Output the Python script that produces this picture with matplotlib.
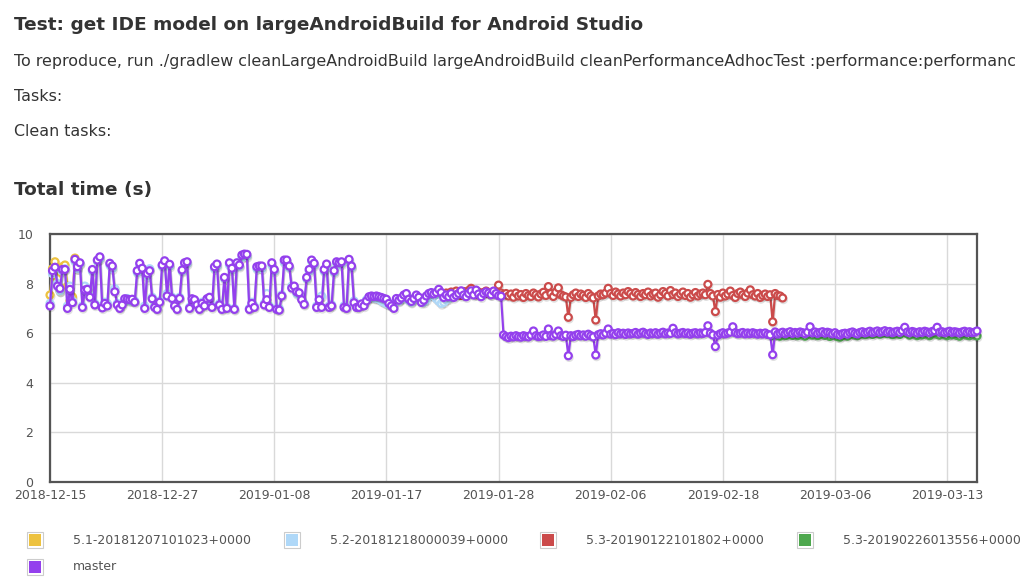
import numpy as np
import matplotlib
matplotlib.use("Agg")
import matplotlib.pyplot as plt
import matplotlib.patheffects as pe
from matplotlib.patches import Rectangle

# ---- data ----
tick_pos = [0, 45, 90, 135, 180, 225, 270, 315, 360]
tick_labels = ["2018-12-15", "2018-12-27", "2019-01-08", "2019-01-17", "2019-01-28",
               "2019-02-06", "2019-02-18", "2019-03-06", "2019-03-13"]

series_names = ["5.1-20181207101023+0000", "5.2-20181218000039+0000",
                "5.3-20190122101802+0000", "5.3-20190226013556+0000", "master"]
series_colors = ["#edc240", "#afd8f8", "#cb4b4b", "#4da74d", "#9440ed"]

v51_start = 0
v51 = [7.54, 8.6, 8.88, 8.2, 7.7, 8.68, 8.75, 7.9, 7.3, 7.47, 9.03, 8.6]

v52_start = 0
v52 = [7.2, 8.4, 8.6, 8.0, 7.7, 8.5, 8.6, 7.1, 7.9, 7.3,
       8.9, 8.6, 8.8, 7.1, 7.9, 7.8, 7.5, 8.5, 7.2, 8.9,
       9.0, 7.1, 7.25, 7.2, 8.75, 8.6, 7.8, 7.2, 7.05, 7.2,
       7.35, 7.4, 7.3, 7.3, 7.3, 8.45, 8.75, 8.55, 7.1, 8.3,
       8.6, 7.45, 7.1, 7.0, 7.3, 8.7, 8.85, 7.6, 8.7, 7.45,
       7.15, 7.0, 7.45, 8.5, 8.8, 8.8, 7.05, 7.3, 7.3, 7.2,
       7.0, 7.25, 7.15, 7.35, 7.4, 7.1, 8.6, 8.7, 7.2, 7.0,
       8.2, 7.05, 8.75, 8.55, 7.0, 8.75, 8.7, 9.05, 9.1, 9.1,
       7.0, 7.25, 7.1, 8.6, 8.65, 8.6, 7.2, 7.6, 7.1, 8.75,
       8.5, 7.0, 7.0, 7.55, 8.85, 8.9, 8.65, 7.9, 7.85, 7.6,
       7.55, 7.4, 7.2, 8.2, 8.5, 8.9, 8.75, 7.1, 7.4, 7.5,
       8.5, 8.7, 7.1, 7.15, 8.45, 8.8, 8.75, 8.8, 7.1, 7.05,
       8.9, 8.65, 7.3, 7.1, 7.1, 7.15, 7.2, 7.35, 7.42, 7.45,
       7.42, 7.4, 7.38, 7.3, 7.25, 7.2, 7.15, 7.1, 7.2, 7.35,
       7.3, 7.38, 7.45, 7.5, 7.32, 7.25, 7.35, 7.45, 7.4, 7.3,
       7.25, 7.35, 7.5, 7.55, 7.5, 7.4, 7.3, 7.2, 7.25, 7.35, 7.4]

v53a_start = 158
v53a = [7.55, 7.62, 7.5, 7.66, 7.58, 7.7, 7.6, 7.52, 7.68, 7.6,
        7.72, 7.81, 7.6, 7.55, 7.66, 7.58, 7.64, 7.7, 7.6, 7.56,
        7.65, 7.6, 7.94, 7.62, 7.55, 7.6, 7.5, 7.58, 7.45, 7.62,
        7.5, 7.56, 7.44, 7.6, 7.52, 7.48, 7.62, 7.55, 7.46, 7.58,
        7.65, 7.52, 7.88, 7.6, 7.48, 7.66, 7.83, 7.55, 7.5, 7.46,
        6.64, 7.44, 7.55, 7.62, 7.48, 7.58, 7.52, 7.44, 7.6, 7.5,
        7.42, 6.53, 7.5, 7.58, 7.55, 7.62, 7.81, 7.6, 7.52, 7.66,
        7.58, 7.5, 7.62, 7.55, 7.68, 7.6, 7.5, 7.64, 7.56, 7.48,
        7.6, 7.55, 7.66, 7.5, 7.58, 7.62, 7.45, 7.55, 7.68, 7.6,
        7.5, 7.72, 7.56, 7.62, 7.48, 7.58, 7.66, 7.52, 7.6, 7.45,
        7.55, 7.64, 7.5, 7.58, 7.62, 7.55, 7.97, 7.6, 7.5, 6.87,
        7.56, 7.45, 7.62, 7.5, 7.58, 7.7, 7.52, 7.44, 7.6, 7.66,
        7.55, 7.48, 7.62, 7.75, 7.55, 7.5, 7.6, 7.44, 7.52, 7.58,
        7.48, 7.55, 6.46, 7.6, 7.52, 7.5, 7.42]

v53b_start = 290
v53b = [5.9, 5.95, 5.92, 5.88, 5.96, 5.9, 5.93, 5.98, 5.91, 5.95,
        5.9, 5.97, 5.93, 5.88, 5.95, 5.99, 5.92, 5.96, 5.9, 5.94,
        5.98, 5.91, 5.95, 5.87, 5.92, 5.96, 5.86, 5.84, 5.9, 5.93,
        5.88, 5.95, 5.99, 5.92, 5.9, 5.96, 6.0, 5.94, 5.97, 6.02,
        5.95, 5.99, 6.04, 5.96, 6.0, 6.07, 5.98, 6.02, 5.94, 5.97,
        6.01, 5.95, 6.04, 6.1, 5.98, 5.92, 6.0, 5.96, 5.9, 5.97,
        5.93, 6.0, 5.95, 5.9, 5.97, 6.02, 5.96, 5.92, 5.99, 5.94,
        5.9, 5.97, 5.93, 5.98, 5.91, 5.88, 5.95, 5.99, 5.92, 5.9, 5.96, 5.93, 5.89]

master_start = 0
master = [7.1, 8.52, 8.66, 7.9, 7.8, 8.57, 8.57, 7.0, 7.77, 7.23,
          8.98, 8.68, 8.84, 7.04, 7.74, 7.77, 7.45, 8.57, 7.14, 8.95,
          9.08, 7.02, 7.2, 7.1, 8.82, 8.71, 7.67, 7.14, 7.0, 7.14,
          7.39, 7.37, 7.35, 7.37, 7.25, 8.52, 8.82, 8.62, 7.0, 8.41,
          8.52, 7.39, 7.04, 6.96, 7.25, 8.75, 8.92, 7.5, 8.78, 7.4,
          7.1, 6.96, 7.4, 8.55, 8.84, 8.88, 7.0, 7.39, 7.35, 7.14,
          6.96, 7.2, 7.1, 7.39, 7.45, 7.04, 8.68, 8.79, 7.14, 6.96,
          8.25, 7.0, 8.84, 8.62, 6.96, 8.84, 8.75, 9.15, 9.19, 9.18,
          6.96, 7.2, 7.04, 8.68, 8.71, 8.71, 7.14, 7.35, 7.04, 8.84,
          8.57, 6.96, 6.93, 7.5, 8.95, 8.95, 8.71, 7.82, 7.9, 7.67,
          7.63, 7.35, 7.16, 8.25, 8.57, 8.95, 8.82, 7.04, 7.35, 7.04,
          8.57, 8.79, 7.04, 7.1, 8.52, 8.88, 8.84, 8.88, 7.04, 7.0,
          8.98, 8.71, 7.23, 7.04,
          7.04, 7.18, 7.1, 7.3, 7.47, 7.5, 7.48, 7.5, 7.47, 7.44,
          7.4, 7.37, 7.2, 7.1, 7.0, 7.4, 7.33, 7.42, 7.54, 7.6,
          7.37, 7.28, 7.4, 7.54, 7.45, 7.24, 7.33, 7.5, 7.6, 7.64,
          7.58, 7.64, 7.77, 7.64, 7.44, 7.54, 7.47, 7.6, 7.44, 7.52,
          7.6, 7.71, 7.54, 7.47, 7.6, 7.71, 7.54, 7.74, 7.58, 7.47,
          7.6, 7.67, 7.62, 7.55, 7.7, 7.6, 7.51, 7.49,
          5.93, 5.86, 5.82, 5.88, 5.85, 5.9, 5.86, 5.84, 5.9, 5.87,
          5.85, 5.92, 6.09, 5.9, 5.86, 5.88, 5.93, 5.87, 6.17, 5.9,
          5.88, 5.95, 6.09, 5.9, 5.87, 5.92, 5.09, 5.9, 5.86, 5.92,
          5.95, 5.89, 5.93, 5.88, 5.96, 5.9, 5.85, 5.12, 5.94, 5.98,
          5.93, 6.0, 6.17, 5.96, 5.99, 5.94, 6.02, 5.97, 6.0, 5.95,
          6.01, 5.97, 5.99, 6.03, 5.96, 6.0, 6.04, 5.98, 5.95, 6.01,
          5.98, 6.02, 5.96, 6.0, 6.04, 5.97, 6.01, 5.99, 6.2, 6.02,
          5.97, 6.0, 6.03, 5.98, 6.01, 5.96, 6.0, 6.02, 5.97, 6.01,
          5.99, 6.03, 6.3, 6.0, 5.93, 5.46, 5.92, 5.98, 6.02, 5.97,
          6.01, 6.04, 6.26, 6.02, 5.98, 6.0, 6.03, 5.97, 6.01, 5.98,
          6.02, 5.99, 5.96, 6.0, 5.97, 6.01, 5.95, 5.93, 5.13, 6.05,
          5.96, 6.0, 6.04, 5.98, 6.02, 6.06, 5.99, 6.03, 6.0, 6.05,
          6.02, 5.98, 6.04, 6.26, 6.01, 6.05, 5.99, 6.03, 6.06, 6.0,
          6.04, 6.01, 5.97, 6.02, 5.95, 5.93, 5.98, 6.0, 5.96, 6.02,
          6.05, 6.0, 5.97, 6.03, 6.06, 6.01, 6.04, 6.08, 6.02, 6.05,
          6.09, 6.03, 6.06, 6.1, 6.04, 6.07, 6.02, 6.05, 6.08, 6.03,
          6.1, 6.24, 6.05, 6.02, 6.07, 6.04, 6.01, 6.06, 6.03, 6.08,
          6.05, 6.02, 6.07, 6.1, 6.24, 6.04, 6.06, 6.02, 6.05, 6.08,
          6.03, 6.06, 6.04, 6.01, 6.05, 6.08, 6.03, 6.06, 6.02, 6.04, 6.09]

all_series = [(v51_start, v51), (v52_start, v52), (v53a_start, v53a),
              (v53b_start, v53b), (master_start, master)]

# ---- figure ----
W, H = 1026, 578
fig = plt.figure(figsize=(W / 100, H / 100), dpi=100)


def px(x, y):
    return x / W, 1 - y / H


txt = "#333333"
fig.text(*px(14, 30), "Test: get IDE model on largeAndroidBuild for Android Studio",
         fontsize=13.3, fontweight="bold", color=txt, va="baseline")
# the page cuts this line off at the right edge
fig.text(*px(14, 66), "To reproduce, run ./gradlew cleanLargeAndroidBuild largeAndroidBuild "
         "cleanPerformanceAdhocTest :performance:performanc",
         fontsize=11.4, color=txt, va="baseline")
fig.text(*px(14, 101), "Tasks:", fontsize=11.4, color=txt, va="baseline")
fig.text(*px(14, 136), "Clean tasks:", fontsize=11.4, color=txt, va="baseline")
fig.text(*px(14, 195), "Total time (s)", fontsize=13.3, fontweight="bold", color=txt,
         va="baseline")

l, b = px(50, 482)
r, t = px(977, 234)
ax = fig.add_axes([l, b, r - l, t - b])

shadow = [pe.SimpleLineShadow(offset=(0.6, -1.2), shadow_color="k", alpha=0.12),
          pe.Normal()]
for (start, vals), c in zip(all_series, series_colors):
    xs = np.arange(start, start + len(vals))
    ax.plot(xs, vals, color=c, lw=1.6, marker="o", ms=5, mfc="white", mec=c,
            mew=1.6, clip_on=False, path_effects=shadow, zorder=3)

ax.set_xlim(0, len(master) - 1)
ax.set_ylim(0, 10)
ax.set_xticks(tick_pos)
ax.set_xticklabels(tick_labels)
ax.set_yticks([0, 2, 4, 6, 8, 10])
ax.grid(True, color="#d9d9d9", lw=1)
ax.set_axisbelow(True)
ax.tick_params(length=0, labelsize=9, labelcolor="#545454")
ax.tick_params(axis="y", pad=12)
ax.tick_params(axis="x", pad=5)
for s in ax.spines.values():
    s.set_color("#545454")
    s.set_linewidth(1.6)
    s.set_zorder(2)

# legend below the chart
leg_pos = [(27, 540), (284, 540), (540, 540), (797, 540), (27, 567)]
for (x, y), name, c in zip(leg_pos, series_names, series_colors):
    fig.patches.append(Rectangle(px(x, y + 8), 16 / W, 16 / H, transform=fig.transFigure,
                                 facecolor="white", edgecolor="#cccccc", lw=0.8))
    fig.patches.append(Rectangle(px(x + 2, y + 6), 12 / W, 12 / H, transform=fig.transFigure,
                                 facecolor=c, edgecolor="none"))
    fig.text(*px(x + 46, y), name, fontsize=9, color="#545454", va="center")

fig.savefig("out.png", dpi=100)
